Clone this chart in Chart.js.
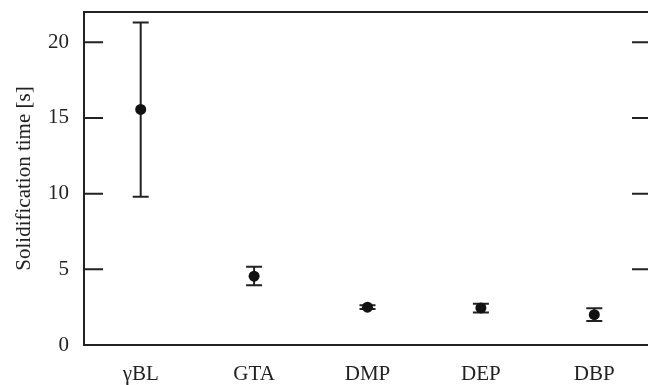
<!DOCTYPE html>
<html>
<head>
<meta charset="utf-8">
<script src="https://cdn.jsdelivr.net/npm/chart.js@4/dist/chart.umd.min.js"></script>
<style>
  html, body { margin: 0; padding: 0; background: #fff; overflow: hidden; }
  #wrap { width: 660px; height: 385px; }
</style>
</head>
<body>
<div id="wrap"><canvas id="solid"></canvas></div>
<script>
const categories = ['γBL', 'GTA', 'DMP', 'DEP', 'DBP'];
const meanTime = [15.56, 4.55, 2.5, 2.45, 2.0];
const lowerTime = [9.8, 3.95, 2.38, 2.15, 1.58];
const upperTime = [21.3, 5.17, 2.62, 2.72, 2.42];
const yTicks = [0, 5, 10, 15, 20];

const ink = '#222';

// whiskers with caps, drawn under the dots
const errorBars = {
  id: 'errorBars',
  beforeDatasetsDraw(chart) {
    const { ctx, scales: { x, y } } = chart;
    ctx.save();
    ctx.strokeStyle = ink;
    ctx.lineWidth = 2;
    categories.forEach((c, i) => {
      const px = x.getPixelForValue(i);
      const top = y.getPixelForValue(upperTime[i]);
      const bot = y.getPixelForValue(lowerTime[i]);
      const cap = 8;
      ctx.beginPath();
      ctx.moveTo(px, top); ctx.lineTo(px, bot);
      ctx.moveTo(px - cap, top); ctx.lineTo(px + cap, top);
      ctx.moveTo(px - cap, bot); ctx.lineTo(px + cap, bot);
      ctx.stroke();
    });
    ctx.restore();
  }
};

// box frame and inward ticks on both sides
const frame = {
  id: 'frame',
  afterDraw(chart) {
    const { ctx, chartArea: a, scales: { y } } = chart;
    ctx.save();
    ctx.strokeStyle = ink;
    ctx.lineWidth = 2;
    ctx.strokeRect(a.left, a.top, a.right - a.left, a.bottom - a.top);
    ctx.beginPath();
    yTicks.forEach(v => {
      const py = y.getPixelForValue(v);
      ctx.moveTo(a.left, py); ctx.lineTo(a.left + 19, py);
      ctx.moveTo(a.right, py); ctx.lineTo(a.right - 19, py);
    });
    ctx.stroke();
    ctx.restore();
  }
};

new Chart(document.getElementById('solid'), {
  type: 'line',
  data: {
    labels: categories,
    datasets: [{
      data: meanTime,
      showLine: false,
      pointRadius: 5.5,
      pointBackgroundColor: '#111',
      pointBorderColor: '#111',
      pointBorderWidth: 0
    }]
  },
  options: {
    responsive: true,
    maintainAspectRatio: false,
    animation: false,
    layout: { padding: { top: 12, right: 9, left: 0, bottom: 0 } },
    plugins: { legend: { display: false }, tooltip: { enabled: false } },
    scales: {
      x: {
        offset: true,
        grid: { display: false, drawTicks: false },
        border: { display: false },
        ticks: { color: ink, padding: 17, font: { family: 'Liberation Serif', size: 21 } },
        afterFit(s) { s.height = 40; s.paddingLeft = 0; s.paddingRight = 0; }
      },
      y: {
        min: 0,
        max: 22,
        grid: { display: false, drawTicks: false },
        border: { display: false },
        ticks: {
          stepSize: 5,
          includeBounds: false,
          color: ink,
          padding: 15,
          font: { family: 'Liberation Serif', size: 21 }
        },
        title: {
          display: true,
          text: 'Solidification time [s]',
          color: ink,
          padding: { top: 12, bottom: 0 },
          font: { family: 'Liberation Serif', size: 21 }
        },
        afterFit(s) { s.width = 84; s.paddingTop = 0; s.paddingBottom = 0; }
      }
    }
  },
  plugins: [errorBars, frame]
});
</script>
</body>
</html>
